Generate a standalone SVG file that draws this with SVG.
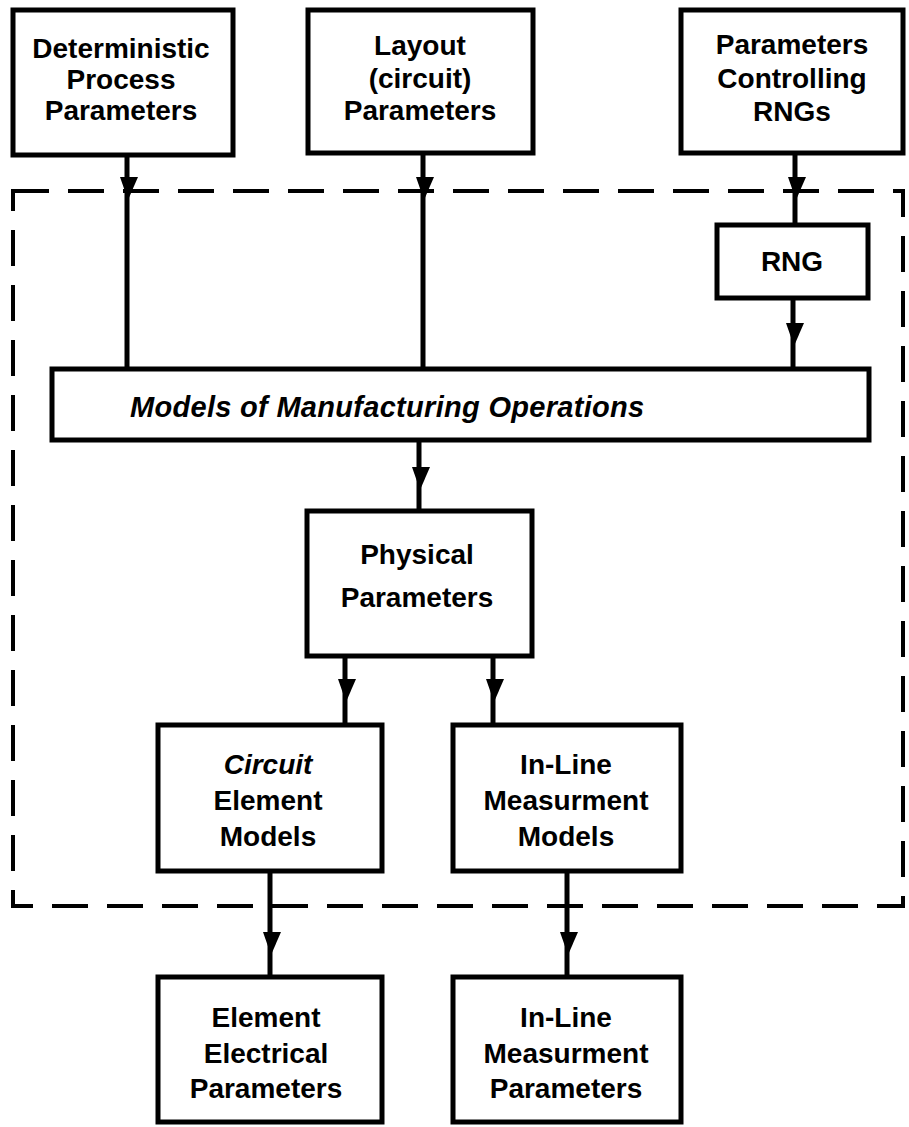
<svg xmlns="http://www.w3.org/2000/svg" width="909" height="1127" viewBox="0 0 909 1127">
<style>
.box{fill:#fff;stroke:#000;stroke-width:5;stroke-linejoin:miter}
.lbl{font-family:"Liberation Sans",Arial,sans-serif;font-weight:bold;font-size:28px;fill:#000;text-anchor:middle}
.it{font-style:italic}
.wire{stroke:#000;stroke-width:5;fill:none}
.frame{fill:none;stroke:#000;stroke-width:4;stroke-dasharray:36 19}
</style>
<defs>
<path id="ah" d="M-7,0 L11,0 L1,23 Z" fill="#000"/>
</defs>
<rect width="909" height="1127" fill="#fff"/>
<g id="boundary">
<rect class="frame" x="13" y="191" width="890" height="715"/>
</g>
<g id="connectors">
<line class="wire" x1="127" y1="155" x2="127" y2="369"/>
<use href="#ah" x="127" y="177"/>
<line class="wire" x1="423" y1="153" x2="423" y2="369"/>
<use href="#ah" x="423" y="177"/>
<line class="wire" x1="795" y1="153" x2="795" y2="225"/>
<use href="#ah" x="795" y="177"/>
<line class="wire" x1="793" y1="298" x2="793" y2="369"/>
<use href="#ah" x="793" y="323"/>
<line class="wire" x1="419" y1="440" x2="419" y2="511"/>
<use href="#ah" x="419" y="467"/>
<line class="wire" x1="345" y1="656" x2="345" y2="725"/>
<use href="#ah" x="345" y="679"/>
<line class="wire" x1="493" y1="656" x2="493" y2="725"/>
<use href="#ah" x="493" y="679"/>
<line class="wire" x1="270" y1="871" x2="270" y2="977"/>
<use href="#ah" x="270" y="932"/>
<line class="wire" x1="567" y1="871" x2="567" y2="977"/>
<use href="#ah" x="567" y="932"/>
</g>
<g id="det">
<rect class="box" x="13" y="10" width="220" height="145"/>
<text class="lbl" x="121" y="58">Deterministic</text>
<text class="lbl" x="121" y="89">Process</text>
<text class="lbl" x="121" y="120">Parameters</text>
</g>
<g id="layout">
<rect class="box" x="308" y="10" width="225" height="143"/>
<text class="lbl" x="420" y="55">Layout</text>
<text class="lbl" x="420" y="88">(circuit)</text>
<text class="lbl" x="420" y="120">Parameters</text>
</g>
<g id="rngparams">
<rect class="box" x="681" y="10" width="222" height="143"/>
<text class="lbl" x="792" y="54">Parameters</text>
<text class="lbl" x="792" y="88">Controlling</text>
<text class="lbl" x="792" y="121">RNGs</text>
</g>
<g id="rng">
<rect class="box" x="717" y="225" width="151" height="73"/>
<text class="lbl" x="792" y="271">RNG</text>
</g>
<g id="models">
<rect class="box" x="52" y="369" width="817" height="71"/>
<text class="lbl it" x="130" y="417" style="text-anchor:start;font-size:29px;letter-spacing:0.3px">Models of Manufacturing Operations</text>
</g>
<g id="physical">
<rect class="box" x="307" y="511" width="225" height="145"/>
<text class="lbl" x="417" y="564">Physical</text>
<text class="lbl" x="417" y="607">Parameters</text>
</g>
<g id="circuit">
<rect class="box" x="158" y="725" width="224" height="146"/>
<text class="lbl it" x="268" y="774">Circuit</text>
<text class="lbl" x="268" y="810">Element</text>
<text class="lbl" x="268" y="846">Models</text>
</g>
<g id="inlinemodels">
<rect class="box" x="453" y="725" width="228" height="146"/>
<text class="lbl" x="566" y="774">In-Line</text>
<text class="lbl" x="566" y="810">Measurment</text>
<text class="lbl" x="566" y="846">Models</text>
</g>
<g id="elemparams">
<rect class="box" x="158" y="977" width="224" height="145"/>
<text class="lbl" x="266" y="1027">Element</text>
<text class="lbl" x="266" y="1063">Electrical</text>
<text class="lbl" x="266" y="1098">Parameters</text>
</g>
<g id="inlineparams">
<rect class="box" x="453" y="977" width="228" height="145"/>
<text class="lbl" x="566" y="1027">In-Line</text>
<text class="lbl" x="566" y="1063">Measurment</text>
<text class="lbl" x="566" y="1098">Parameters</text>
</g>
</svg>
